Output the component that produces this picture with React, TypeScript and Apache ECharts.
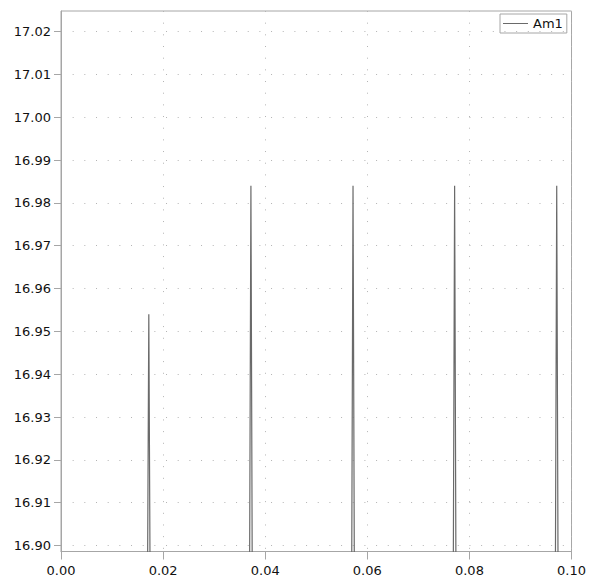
import React, { useEffect, useRef } from "react";
import * as echarts from "echarts";

// Sample times (s) and Am1 amplitude; the trace sits below the visible range
// between the short peaks.
const sampleTimes = [
  0.0, 0.0169, 0.0172, 0.0175,
  0.0369, 0.0372, 0.0375,
  0.0569, 0.0572, 0.0575,
  0.0768, 0.0771, 0.0774,
  0.0968, 0.0971, 0.0974,
  0.1,
];
const am1Values = [
  16.88, 16.88, 16.954, 16.88,
  16.88, 16.984, 16.88,
  16.88, 16.984, 16.88,
  16.88, 16.984, 16.88,
  16.88, 16.984, 16.88,
  16.88,
];

const seriesName = "Am1";
const yTicks = [16.9, 16.91, 16.92, 16.93, 16.94, 16.95, 16.96, 16.97, 16.98, 16.99, 17.0, 17.01, 17.02];
const yMin = 16.8986;
const yMax = 17.0248;
const xMin = 0;
const xMax = 0.1;
const xStep = 0.02;

const FONT = "DejaVu Sans";
const AXIS_GRAY = "#a6a6a6";
const DOT_GRAY = "#b4b4b4";
const TRACE = "#6a6a6a";

export default function App() {
  const ref = useRef<HTMLDivElement>(null);

  useEffect(() => {
    if (!ref.current) return;
    const chart = echarts.init(ref.current, null, { renderer: "svg" });
    const points = sampleTimes.map((t, i) => [t, am1Values[i]]);

    chart.setOption({
      animation: false,
      backgroundColor: "#ffffff",
      grid: {
        left: 61,
        top: 11,
        right: 15,
        bottom: 28.5,
        show: true,
        borderColor: AXIS_GRAY,
        borderWidth: 1,
        containLabel: false,
      },
      legend: {
        show: true,
        data: [{ name: seriesName, icon: "rect" }],
        left: 500,
        top: 14,
        orient: "horizontal",
        padding: [3, 4, 3, 3],
        borderColor: AXIS_GRAY,
        borderWidth: 1,
        itemWidth: 25,
        itemHeight: 1,
        itemStyle: { color: TRACE },
        textStyle: { fontFamily: FONT, fontSize: 13, color: "#111" },
      },
      xAxis: {
        type: "value",
        min: xMin,
        max: xMax,
        interval: xStep,
        axisLine: { show: true, onZero: false, lineStyle: { color: AXIS_GRAY, width: 1 } },
        axisTick: { show: true, length: 8, lineStyle: { color: AXIS_GRAY } },
        axisLabel: {
          margin: 12,
          fontFamily: FONT,
          fontSize: 13,
          color: "#111",
          formatter: (v: number) => v.toFixed(2),
        },
        splitLine: {
          show: true,
          lineStyle: { color: DOT_GRAY, type: [1, 10.67], width: 1 },
        },
      },
      yAxis: {
        type: "value",
        min: yMin,
        max: yMax,
        axisLine: { show: true, onZero: false, lineStyle: { color: AXIS_GRAY, width: 1 } },
        axisTick: { show: true, length: 7, lineStyle: { color: AXIS_GRAY }, customValues: yTicks },
        axisLabel: {
          margin: 10,
          fontFamily: FONT,
          fontSize: 13,
          color: "#111",
          customValues: yTicks,
          formatter: (v: number) => v.toFixed(2),
        },
        splitLine: {
          show: true,
          lineStyle: { color: DOT_GRAY, type: [1, 10.67], width: 1 },
        },
      },
      series: [
        {
          name: seriesName,
          type: "line",
          data: points,
          symbol: "none",
          showSymbol: false,
          clip: true,
          lineStyle: { color: TRACE, width: 1.2 },
          itemStyle: { color: TRACE },
        },
      ],
    });

    return () => chart.dispose();
  }, []);

  return (
    <div
      ref={ref}
      style={{ position: "fixed", left: 0, top: 0, width: 589, height: 580 }}
    />
  );
}
